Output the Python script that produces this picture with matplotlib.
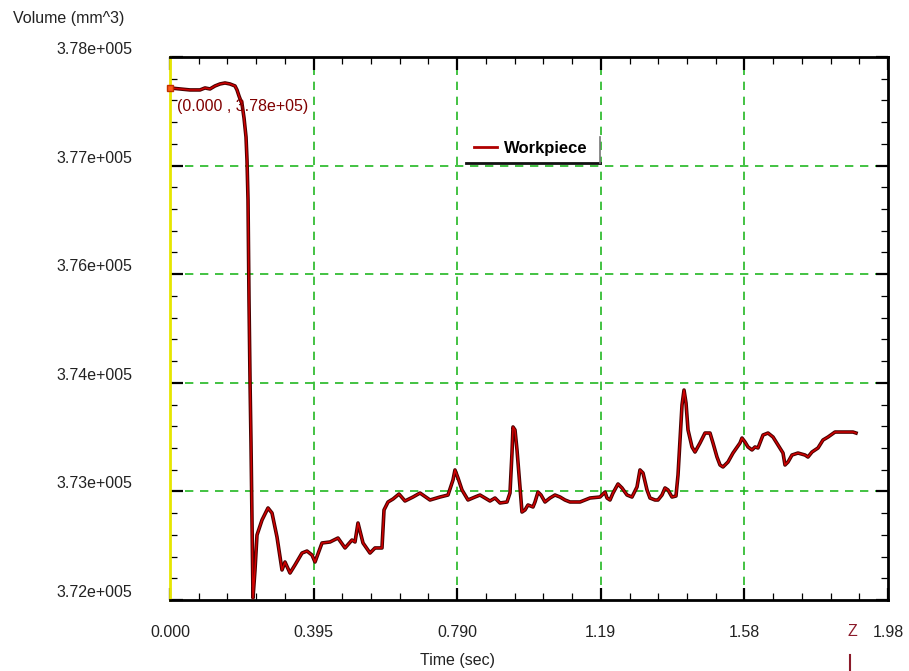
import matplotlib
matplotlib.use("Agg")
import matplotlib.pyplot as plt
from matplotlib.ticker import MultipleLocator
from matplotlib.lines import Line2D

plt.rcParams['font.family'] = ['Liberation Sans', 'DejaVu Sans']

# Workpiece volume history
time_sec = [
    0.000, 0.0275, 0.0550, 0.0825, 0.0963, 0.1100, 0.1238, 0.1375, 0.1513, 0.1650,
    0.1788, 0.1843, 0.1898, 0.1981, 0.2036, 0.2091, 0.2118, 0.2146, 0.2173, 0.2201,
    0.2228, 0.2256, 0.2283, 0.2338, 0.2393, 0.2531, 0.2696, 0.2806, 0.2943, 0.3081,
    0.3163, 0.3301, 0.3438, 0.3631, 0.3768, 0.3906, 0.3989, 0.4181, 0.4401, 0.4621,
    0.4814, 0.5006, 0.5089, 0.5171, 0.5309, 0.5501, 0.5639, 0.5831, 0.5887, 0.5997,
    0.6134, 0.6299, 0.6464, 0.6684, 0.6877, 0.7152, 0.7427, 0.7647, 0.7784, 0.7839,
    0.7922, 0.8032, 0.8197, 0.8390, 0.8527, 0.8802, 0.8940, 0.9077, 0.9270, 0.9352,
    0.9407, 0.9435, 0.9490, 0.9545, 0.9627, 0.9682, 0.9765, 0.9847, 0.9985, 1.0040,
    1.0123, 1.0205, 1.0315, 1.0453, 1.0590, 1.0728, 1.0865, 1.1003, 1.1278, 1.1553,
    1.1828, 1.1966, 1.2021, 1.2103, 1.2186, 1.2323, 1.2433, 1.2571, 1.2708, 1.2846,
    1.2928, 1.3011, 1.3121, 1.3203, 1.3341, 1.3423, 1.3533, 1.3616, 1.3698, 1.3808,
    1.3918, 1.3974, 1.4029, 1.4084, 1.4139, 1.4194, 1.4249, 1.4359, 1.4441, 1.4579,
    1.4716, 1.4854, 1.4936, 1.5046, 1.5129, 1.5211, 1.5349, 1.5486, 1.5679, 1.5734,
    1.5816, 1.5899, 1.6009, 1.6092, 1.6174, 1.6312, 1.6449, 1.6587, 1.6724, 1.6862,
    1.6917, 1.7000, 1.7109, 1.7274, 1.7467, 1.7549, 1.7659, 1.7825, 1.7962, 1.8100,
    1.8292, 1.8485, 1.8650, 1.8787, 1.8870,
]
volume = [
    377658, 377647, 377636, 377636, 377658, 377647, 377680, 377702, 377713, 377702,
    377680, 377636, 377569, 377481, 377326, 377116, 376862, 376420, 375315, 374431,
    373735, 372884, 372022, 372332, 372718, 372884, 373017, 372961, 372696, 372332,
    372420, 372298, 372387, 372519, 372541, 372497, 372420, 372630, 372641, 372685,
    372575, 372663, 372641, 372851, 372630, 372519, 372575, 372575, 372995, 373083,
    373116, 373171, 373094, 373138, 373182, 373105, 373138, 373160, 373326, 373437,
    373348, 373216, 373105, 373138, 373160, 373094, 373127, 373072, 373083, 373182,
    373624, 373912, 373879, 373658, 373249, 372972, 372995, 373050, 373028, 373083,
    373193, 373160, 373083, 373127, 373160, 373138, 373105, 373083, 373083, 373127,
    373138, 373193, 373127, 373105, 373182, 373282, 373238, 373160, 373138, 373249,
    373437, 373403, 373216, 373127, 373105, 373105, 373160, 373238, 373216, 373138,
    373149, 373381, 373768, 374155, 374320, 374177, 373879, 373691, 373635, 373735,
    373845, 373845, 373735, 373580, 373492, 373470, 373525, 373624, 373735, 373790,
    373746, 373691, 373658, 373691, 373680, 373823, 373845, 373801, 373713, 373624,
    373492, 373525, 373602, 373624, 373602, 373580, 373635, 373680, 373768, 373801,
    373856, 373856, 373856, 373856, 373845,
]

x_ticks = [0.0, 0.395, 0.790, 1.185, 1.580, 1.975]
x_labels = ["0.000", "0.395", "0.790", "1.19", "1.58", "1.98"]
y_ticks = [372000, 373200, 374400, 375600, 376800, 378000]
y_labels = ["3.72e+005", "3.73e+005", "3.74e+005", "3.76e+005", "3.77e+005", "3.78e+005"]

W, H = 909, 671
fig = plt.figure(figsize=(W / 100, H / 100), dpi=100)
ax = fig.add_axes([170 / W, 71 / H, 718 / W, 543 / H])
ax.set_xlim(x_ticks[0], x_ticks[-1])
ax.set_ylim(y_ticks[0], y_ticks[-1])

# dashed green grid, interior lines only
for xv in x_ticks[1:-1]:
    ax.axvline(xv, color='#22b822', lw=1.2, ls=(0, (5, 4)), zorder=1)
for yv in y_ticks[1:-1]:
    ax.axhline(yv, color='#22b822', lw=1.2, ls=(0, (5, 4)), zorder=1)

ax.plot(time_sec, volume, color='#4a0000', lw=2.6, zorder=3)
ax.plot(time_sec, volume, color='#d00000', lw=1.1, zorder=4)
ax.plot([time_sec[0]], [volume[0]], marker='s', ms=5, color='#ff5a1a',
        mec='#c03000', clip_on=False, zorder=5)
ax.text(0.019, 377448, "(0.000 , 3.78e+05)", color='#800000', fontsize=11.5,
        va='center', ha='left', zorder=6)

ax.set_xticks(x_ticks)
ax.set_xticklabels(x_labels)
ax.set_yticks(y_ticks)
ax.set_yticklabels(y_labels)
ax.xaxis.set_minor_locator(MultipleLocator(0.079))
ax.yaxis.set_minor_locator(MultipleLocator(240))
ax.tick_params(which='major', direction='in', length=9, width=1.6, color='black',
               top=True, right=True, labelsize=11.5, labelcolor='#222222')
ax.tick_params(which='minor', direction='in', length=5, width=0.9, color='black',
               top=True, right=True)
ax.tick_params(axis='x', which='major', pad=18)
ax.tick_params(axis='y', which='major', pad=27)
for lab in ax.get_yticklabels():
    lab.set_verticalalignment('bottom')

for side in ['top', 'right', 'bottom']:
    ax.spines[side].set_linewidth(2)
    ax.spines[side].set_color('black')
ax.spines['left'].set_linewidth(2)
ax.spines['left'].set_color('#e6e600')

leg = ax.legend([Line2D([0], [0], color='#b00000', lw=2)], ["Workpiece"],
                loc='center left', bbox_to_anchor=((474 - 170) / 718, (600 - 148) / 543),
                frameon=False, borderpad=0, borderaxespad=0, handlelength=1.4,
                handletextpad=0.4, prop={'weight': 'bold', 'size': 12})
# legend box shadow (bottom and right edges)
fig.add_artist(Line2D([466 / W, 600 / W], [1 - 163 / H, 1 - 163 / H],
                      color='#111111', lw=2))
fig.add_artist(Line2D([600 / W, 600 / W], [1 - 137 / H, 1 - 163 / H],
                      color='#777777', lw=1.2))

fig.text(13 / W, 1 - 19 / H, "Volume (mm^3)", fontsize=11.5, color='#222222',
         ha='left', va='center')
fig.text(457 / W, 1 - 660 / H, "Time (sec)", fontsize=11.5, color='#222222',
         ha='center', va='center')
fig.text(852 / W, 1 - 632 / H, "Z", fontsize=11.5, color='#8b1a2a',
         ha='center', va='center')
fig.add_artist(Line2D([850 / W, 850 / W], [1 - 655 / H, 1 - 670 / H],
                      color='#8b1a2a', lw=1.5))

fig.savefig("out.png", dpi=100, facecolor='white')
